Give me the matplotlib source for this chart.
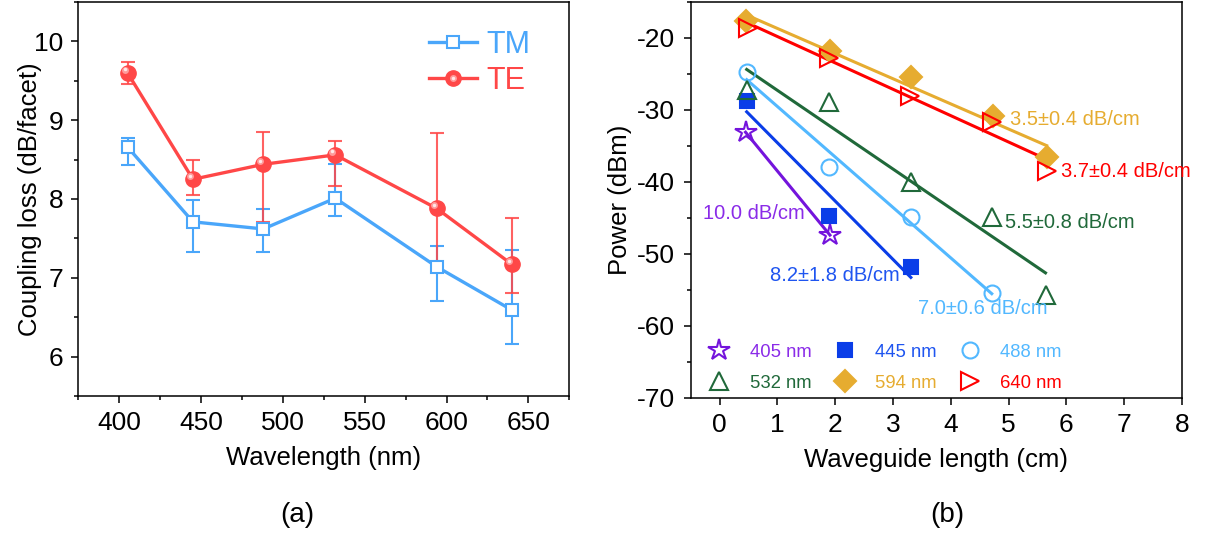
import numpy as np
import matplotlib
matplotlib.use("Agg")
import matplotlib.pyplot as plt
from matplotlib.transforms import offset_copy
from matplotlib.ticker import MultipleLocator

plt.rcParams['font.family'] = ['Liberation Sans', 'DejaVu Sans']
plt.rcParams['axes.linewidth'] = 1.1
plt.rcParams['axes.unicode_minus'] = False

# (a) coupling loss vs wavelength
wavelength = [405, 445, 488, 532, 594, 640]
tm_loss = [8.66, 7.71, 7.62, 8.01, 7.14, 6.59]
tm_err_lo = [0.23, 0.38, 0.29, 0.23, 0.44, 0.43]
tm_err_hi = [0.12, 0.28, 0.25, 0.44, 0.26, 0.76]
te_loss = [9.60, 8.25, 8.44, 8.56, 7.88, 7.17]
te_err_lo = [0.14, 0.20, 0.73, 0.40, 0.80, 0.36]
te_err_hi = [0.14, 0.25, 0.41, 0.17, 0.96, 0.59]

# (b) cut-back measurement: output power vs waveguide length
series = ['405 nm', '445 nm', '488 nm', '532 nm', '594 nm', '640 nm']
length = {
    '405 nm': [0.45, 1.91],
    '445 nm': [0.47, 1.90, 3.31],
    '488 nm': [0.47, 1.90, 3.31, 4.71],
    '532 nm': [0.47, 1.90, 3.31, 4.71, 5.64],
    '594 nm': [0.46, 1.91, 3.31, 4.74, 5.66],
    '640 nm': [0.50, 1.90, 3.30, 4.72, 5.66],
}
power = {
    '405 nm': [-33.1, -47.4],
    '445 nm': [-28.8, -44.8, -51.8],
    '488 nm': [-24.7, -37.9, -44.9, -55.4],
    '532 nm': [-27.2, -28.9, -40.0, -44.9, -55.7],
    '594 nm': [-17.6, -21.8, -25.4, -30.8, -36.5],
    '640 nm': [-18.6, -22.8, -28.0, -31.7, -38.5],
}
loss_label = {
    '405 nm': '10.0 dB/cm',
    '445 nm': '8.2\u00b11.8 dB/cm',
    '488 nm': '7.0\u00b10.6 dB/cm',
    '532 nm': '5.5\u00b10.8 dB/cm',
    '594 nm': '3.5\u00b10.4 dB/cm',
    '640 nm': '3.7\u00b10.4 dB/cm',
}
label_pos = {
    '405 nm': (-0.28, -44.4),
    '445 nm': (0.88, -53.0),
    '488 nm': (3.43, -57.6),
    '532 nm': (4.94, -45.7),
    '594 nm': (5.03, -31.4),
    '640 nm': (5.91, -38.5),
}
colors = {
    '405 nm': '#7414dc',
    '445 nm': '#0a3de8',
    '488 nm': '#52b8ff',
    '532 nm': '#20693a',
    '594 nm': '#e6ac30',
    '640 nm': '#ff0000',
}
text_colors = dict(colors, **{'405 nm': '#8a2be8', '445 nm': '#1f55f0'})
markers = {
    '405 nm': ('*', 16, False),
    '445 nm': ('s', 9.5, True),
    '488 nm': ('o', 11.5, False),
    '532 nm': ('^', 13, False),
    '594 nm': ('D', 11, True),
    '640 nm': ('>', 13, False),
}

fig = plt.figure(figsize=(12.07, 5.39), dpi=100)

tm_c = '#4aa6fa'
te_c = '#ff4747'

# ---- panel (a)
ax1 = fig.add_axes([0.065, 0.2653, 0.4066, 0.731])
ax1.errorbar(wavelength, tm_loss, yerr=[tm_err_lo, tm_err_hi], fmt='none',
             ecolor=tm_c, elinewidth=1.5, capsize=5, capthick=1.5)
ax1.errorbar(wavelength, te_loss, yerr=[te_err_lo, te_err_hi], fmt='none',
             ecolor=te_c, elinewidth=1.5, capsize=5, capthick=1.5, alpha=0.85)
tm_line, = ax1.plot(wavelength, tm_loss, color=tm_c, lw=2.4, marker='s', ms=9,
                    mfc='white', mec=tm_c, mew=1.5, label='TM')
te_line, = ax1.plot(wavelength, te_loss, color=te_c, lw=2.4, marker='o', ms=11,
                    mfc=te_c, mec=te_c, label='TE')
# glossy highlight on the TE spheres
hl_trans = offset_copy(ax1.transData, fig=fig, x=-3, y=3, units='dots')
te_hl, = ax1.plot(wavelength, te_loss, ls='none', marker='o', ms=5,
                  mfc='#ff9a9a', mec='none', transform=hl_trans)
hl_trans2 = offset_copy(ax1.transData, fig=fig, x=-3, y=3.5, units='dots')
te_hl2, = ax1.plot(wavelength, te_loss, ls='none', marker='o', ms=2.5,
                   mfc='#ffe8e8', mec='none', transform=hl_trans2)

ax1.set_xlim(375, 675)
ax1.set_ylim(5.5, 10.5)
ax1.xaxis.set_major_locator(MultipleLocator(50))
ax1.xaxis.set_minor_locator(MultipleLocator(25))
ax1.yaxis.set_major_locator(MultipleLocator(1))
ax1.yaxis.set_minor_locator(MultipleLocator(0.5))
ax1.tick_params(which='major', direction='out', length=5, width=1.1, labelsize=19, pad=6)
ax1.tick_params(which='minor', direction='out', length=3, width=1.1)
ax1.set_xlabel('Wavelength (nm)', fontsize=18.5, labelpad=8)
ax1.set_ylabel('Coupling loss (dB/facet)', fontsize=18.5)
ax1.yaxis.set_label_coords(-0.075, 0.5)
leg1 = ax1.legend([tm_line, (te_line, te_hl, te_hl2)], ['TM', 'TE'], loc='upper left',
                  bbox_to_anchor=(0.715, 0.93), frameon=False, fontsize=22,
                  handlelength=1.55, handletextpad=0.3, labelspacing=0.2,
                  borderpad=0, borderaxespad=0)
for txt, c in zip(leg1.get_texts(), [tm_c, te_c]):
    txt.set_color(c)

# ---- panel (b)
ax2 = fig.add_axes([0.5722, 0.2622, 0.4070, 0.7341])
handles = {}
for name in series:
    x = np.array(length[name])
    y = np.array(power[name])
    slope, icpt = np.polyfit(x, y, 1)
    xf = np.array([x[0], x[-1]])
    ax2.plot(xf, slope * xf + icpt, color=colors[name], lw=2.2)
for name in series:
    m, ms, filled = markers[name]
    c = colors[name]
    h, = ax2.plot(length[name], power[name], ls='none', marker=m, ms=ms,
                  mfc=c if filled else 'none', mec=c, mew=1.5, label=name)
    handles[name] = h
    ax2.text(*label_pos[name], loss_label[name], color=text_colors[name],
             fontsize=14.5, va='center', ha='left')

ax2.set_xlim(-0.5, 8)
ax2.set_ylim(-70, -15)
ax2.xaxis.set_major_locator(MultipleLocator(1))
ax2.yaxis.set_major_locator(MultipleLocator(10))
ax2.yaxis.set_minor_locator(MultipleLocator(5))
ax2.tick_params(which='major', direction='out', length=5, width=1.1, labelsize=19, pad=6)
ax2.tick_params(which='minor', direction='out', length=3, width=1.1)
ax2.set_xlabel('Waveguide length (cm)', fontsize=18.5, labelpad=8)
ax2.set_ylabel('Power (dBm)', fontsize=18.5, labelpad=4)

# legend filled row by row: 405/445/488 then 532/594/640
order = ['405 nm', '532 nm', '445 nm', '594 nm', '488 nm', '640 nm']
leg2 = ax2.legend([handles[n] for n in order], order, ncol=3, loc='upper left',
                  bbox_to_anchor=(0.039, 0.136), frameon=False, fontsize=13.3,
                  handlelength=1.0, handletextpad=1.15, columnspacing=1.3,
                  labelspacing=0.75, borderpad=0, borderaxespad=0)
for txt, n in zip(leg2.get_texts(), order):
    txt.set_color(text_colors[n])

fig.text(0.246, 0.045, '(a)', fontsize=20, ha='center', va='center')
fig.text(0.785, 0.045, '(b)', fontsize=20, ha='center', va='center')

fig.savefig('out.png', dpi=100)
